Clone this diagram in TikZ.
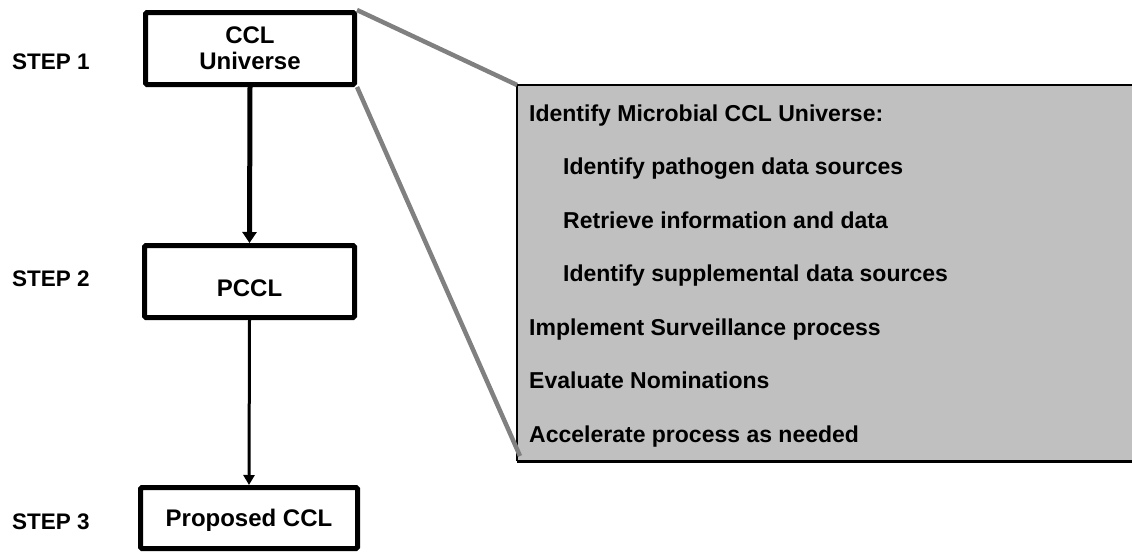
\documentclass[tikz,border=0pt]{standalone}
\usepackage{fontspec}
\setmainfont{Liberation Sans}
\usetikzlibrary{arrows.meta}
\definecolor{boxgray}{HTML}{C0C0C0}
\definecolor{linkgray}{HTML}{808080}
\begin{document}
\begin{tikzpicture}[x=1pt,y=-1pt,
  stepbox/.style={draw, line width=5pt, rectangle, rounded corners=1.5pt,
    font=\bfseries\fontsize{24}{26}\selectfont, inner sep=0pt, align=center},
  steplabel/.style={anchor=west, font=\bfseries\fontsize{22.5}{26}\selectfont,
    inner sep=0pt, text height=16pt, text depth=0pt},
  itemtext/.style={anchor=west, font=\bfseries\fontsize{23}{27}\selectfont,
    inner sep=0pt, text height=16.5pt, text depth=0pt},
  link/.style={draw=linkgray, line width=4.5pt},
  thickarrow/.style={line width=5pt, -{Triangle[width=14pt,length=11pt]}},
  thinarrow/.style={line width=3pt, -{Triangle[width=11pt,length=10pt]}},
]
\useasboundingbox (0,0) rectangle (1132,554);

% detail panel
\node[fill=boxgray, anchor=north west, minimum width=640pt, minimum height=376pt,
  inner sep=0pt] (detail) at (517,85) {};
\draw[line width=2.5pt] (detail.north east) -- (detail.north west);
\draw[line width=2.5pt] (detail.south east) -- (detail.south west);
\draw[line width=1.5pt] (detail.north west) -- (detail.south west);

% step boxes
\node[stepbox, minimum width=209pt, minimum height=72pt] (ccl) at (250,48.5)
  {CCL\\Universe};
\node[stepbox, minimum width=210pt, minimum height=72pt, text height=29pt, text depth=0pt]
  (pccl) at (249.5,281.5) {PCCL};
\node[stepbox, minimum width=217pt, minimum height=61pt, text height=17pt, text depth=0pt]
  (prop) at (249,518) {Proposed CCL};

% step labels
\node[steplabel] (s1) at (12,61) {STEP 1};
\node[steplabel] (s2) at (12,278) {STEP 2};
\node[steplabel] (s3) at (12,521) {STEP 3};

% arrows
\draw[thickarrow] (ccl.south) -- (pccl.north);
\draw[thinarrow] (pccl.south) -- (prop.north);

% links to the detail panel
\coordinate (lowend) at (520,456);
\draw[link] (ccl.north east) -- (detail.north west);
\draw[link] (ccl.south east) -- (lowend);

% panel text
\node[itemtext] (t1) at (529,113) {Identify Microbial CCL Universe:};
\node[itemtext] (t2) at (563,166.5) {Identify pathogen data sources};
\node[itemtext] (t3) at (563,220) {Retrieve information and data};
\node[itemtext] (t4) at (563,273.5) {Identify supplemental data sources};
\node[itemtext] (t5) at (529,327) {Implement Surveillance process};
\node[itemtext] (t6) at (529,380.5) {Evaluate Nominations};
\node[itemtext] (t7) at (529,434) {Accelerate process as needed};
\end{tikzpicture}
\end{document}
